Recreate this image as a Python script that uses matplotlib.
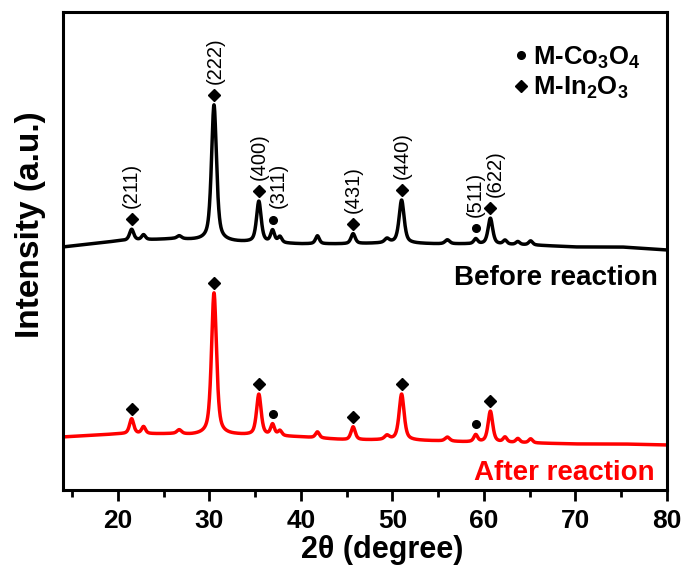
import numpy as np
import matplotlib
matplotlib.use("Agg")
import matplotlib.pyplot as plt
from matplotlib.lines import Line2D

plt.rcParams['font.family'] = ['Liberation Sans', 'DejaVu Sans']
plt.rcParams['mathtext.fontset'] = 'custom'
plt.rcParams['mathtext.rm'] = 'Liberation Sans:bold'
plt.rcParams['mathtext.it'] = 'Liberation Sans:bold'
plt.rcParams['mathtext.bf'] = 'Liberation Sans:bold'
plt.rcParams['mathtext.default'] = 'rm'

# ---- reflexiones XRD (2θ, intensidad sobre el fondo, FWHM) ----
pico_2theta = [21.5, 22.8, 26.7, 30.5, 35.4, 36.9, 37.7, 41.8, 45.7,
               49.4, 51.0, 56.0, 59.1, 60.7, 62.3, 63.7, 65.1]
pico_fwhm = [0.55, 0.5, 0.6, 0.65, 0.6, 0.5, 0.5, 0.5, 0.55,
             0.6, 0.65, 0.6, 0.5, 0.6, 0.5, 0.5, 0.5]
antes_altura = [11, 5, 3, 136, 41, 12, 6, 8, 10,
                4, 43, 4, 5, 26, 4, 3, 4]
despues_altura = [15, 7, 4, 142, 41, 11, 5, 6, 13,
                  4, 46, 4, 7, 31, 5, 4, 4]

# fondo de cada difractograma
fondo_2theta = [14, 20, 26, 28, 33, 40, 45, 50, 55, 58, 65, 70, 75, 80]
antes_fondo = [243, 249, 251, 250, 248, 246, 246, 247, 246, 246, 245, 243, 243, 240]
despues_fondo = [53, 56, 56, 55, 55, 53, 50, 50, 49, 48, 47, 46, 46, 45]

# picos indexados: (2θ, fase, hkl)
indexado_2theta = [21.5, 30.5, 35.4, 36.9, 45.7, 51.0, 59.1, 60.7]
indexado_fase = ['In', 'In', 'In', 'Co', 'In', 'In', 'Co', 'In']
indexado_hkl = ['(211)', '(222)', '(400)', '(311)', '(431)', '(440)', '(511)', '(622)']
hkl_dx = [0, 1, 0, 6, 0, 1, 0, 5]   # pequeño desplazamiento de la etiqueta (px)


def difractograma(x, alturas, fondo):
    y = np.interp(x, fondo_2theta, fondo)
    for x0, h, w in zip(pico_2theta, alturas, pico_fwhm):
        u = (x - x0) / (w / 2)
        y = y + h * (0.6 / (1 + u**2) + 0.4 * np.exp(-np.log(2) * u**2))
    return y


x = np.arange(14, 80.001, 0.02)
y_antes = difractograma(x, antes_altura, antes_fondo)
y_despues = difractograma(x, despues_altura, despues_fondo)

fig = plt.figure(figsize=(6.87, 5.73), dpi=100)
ax = fig.add_axes([0.0917, 0.1449, 0.8792, 0.8342])

ax.plot(x, y_antes, color='black', lw=2.5)
ax.plot(x, y_despues, color='red', lw=2.5)

# marcadores sobre los picos
for xs, ys, etiquetas in [(x, y_antes, True), (x, y_despues, False)]:
    for p, fase, hkl, dx in zip(indexado_2theta, indexado_fase, indexado_hkl, hkl_dx):
        top = np.interp(p, xs, ys)
        marcador = 'D' if fase == 'In' else 'o'
        ms = 6.5 if fase == 'In' else 5.5
        ym = top + 10
        ax.plot([p], [ym], marker=marcador, ms=ms, color='black', ls='none')
        if etiquetas:
            ax.annotate(hkl, (p, ym), xytext=(dx * 0.72, 8), textcoords='offset points',
                        rotation=90, ha='center', va='bottom', fontsize=14.5)

ax.text(0.985, 0.429, 'Before reaction', transform=ax.transAxes, ha='right',
        va='baseline', fontsize=20, fontweight='bold', color='black')
ax.text(0.980, 0.021, 'After reaction', transform=ax.transAxes, ha='right',
        va='baseline', fontsize=20, fontweight='bold', color='red')

leyenda = [Line2D([], [], marker='o', ms=5.5, color='black', ls='none'),
           Line2D([], [], marker='D', ms=6.5, color='black', ls='none')]
ax.legend(leyenda, ['M-Co$_3$O$_4$', 'M-In$_2$O$_3$'], loc='upper right',
          bbox_to_anchor=(0.99, 0.975), frameon=False, handlelength=0.5,
          handletextpad=0.2, labelspacing=0.15, borderaxespad=0.4,
          prop={'size': 18.5, 'weight': 'bold'})

ax.set_xlim(14, 80)
ax.set_ylim(0, 478)
ax.set_xticks(range(20, 81, 10))
ax.set_xticks(range(15, 80, 10), minor=True)
ax.set_yticks([])
ax.tick_params(axis='x', which='major', direction='out', length=8, width=2,
               labelsize=19, pad=6)
ax.tick_params(axis='x', which='minor', direction='out', length=5, width=2)
for lbl in ax.get_xticklabels():
    lbl.set_fontweight('bold')
for s in ax.spines.values():
    s.set_linewidth(2.2)

ax.set_xlabel('2θ (degree)', fontsize=22, fontweight='bold')
ax.xaxis.set_label_coords(0.528, -0.094)
ax.set_ylabel('Intensity (a.u.)', fontsize=24, fontweight='bold')
ax.yaxis.set_label_coords(-0.028, 0.554)

fig.savefig('out.png', dpi=100)
